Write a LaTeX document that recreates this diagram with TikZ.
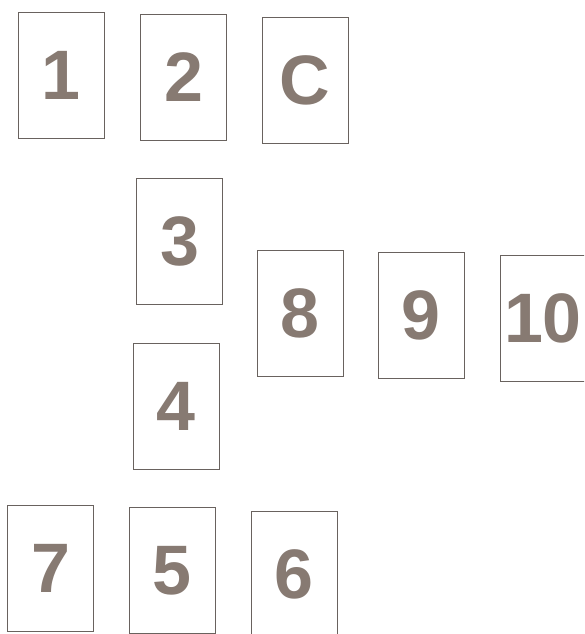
\documentclass[tikz,border=0pt]{standalone}
\usepackage{fontspec}
\setmainfont{Liberation Sans}
\definecolor{digit}{RGB}{135,122,114}
\definecolor{frame}{RGB}{105,98,94}
\begin{document}
\begin{tikzpicture}[x=1pt,y=-1pt,
  card/.style={draw=frame, line width=0.9pt, fill=white, inner sep=0pt,
    minimum width=86pt, minimum height=126pt, text=digit,
    font=\fontsize{70}{70}\selectfont\bfseries}]
\useasboundingbox (0,0) rectangle (584,634);
\clip (0,0) rectangle (584,634);
\fill[white] (0,0) rectangle (584,634);
\node[card] (n1) at (61,75) {1};
\node[card] (n2) at (183.5,77.5) {2};
\node[card] (nC) at (305,80) {C};
\node[card] (n3) at (179.5,241) {3};
\node[card] (n4) at (176,406) {4};
\node[card] (n8) at (300,313.5) {8};
\node[card] (n9) at (421,315.5) {9};
\node[card] (n10) at (543,318) {10};
\node[card] (n7) at (50.5,568.5) {7};
\node[card] (n5) at (172,570.5) {5};
\node[card] (n6) at (294,574) {6};
\end{tikzpicture}
\end{document}
